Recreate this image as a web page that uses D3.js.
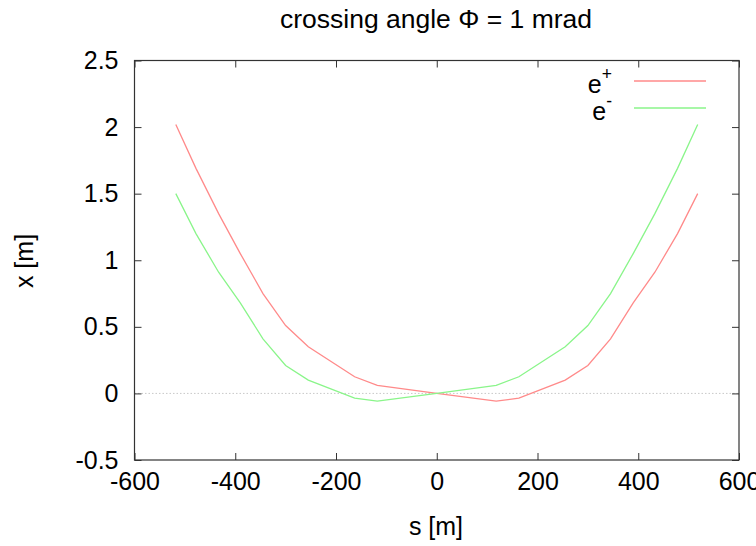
<!DOCTYPE html>
<html><head><meta charset="utf-8">
<script src="https://cdn.jsdelivr.net/npm/d3@7"></script>
<style>body{margin:0;background:#fff}svg{display:block}text{font-family:"Liberation Sans",Arial,sans-serif;fill:#000}</style>
</head><body>
<script>
const sValues = [-518, -478, -433, -390, -345, -300, -255, -163, -118, 0, 118, 163, 255, 300, 345, 390, 433, 478, 518];
const ePlus  = [2.02, 1.69, 1.35, 1.05, 0.75, 0.51, 0.35, 0.125, 0.06, 0, -0.058, -0.036, 0.10, 0.21, 0.41, 0.68, 0.91, 1.20, 1.50];
const eMinus = [1.50, 1.20, 0.91, 0.68, 0.41, 0.21, 0.10, -0.036, -0.058, 0, 0.06, 0.125, 0.35, 0.51, 0.75, 1.05, 1.35, 1.69, 2.02];
const xTicks = [-600, -400, -200, 0, 200, 400, 600];
const yTicks = [-0.5, 0, 0.5, 1, 1.5, 2, 2.5];
const seriesNames = ["e+", "e-"];
const seriesColors = ["#ff8a8a", "#8af58a"];

const W = 756, H = 546;
const L = 134.5, R = 739, T = 60.5, B = 460;
const FS = 25;
const svg = d3.select("body").append("svg").attr("width", W).attr("height", H);
const x = d3.scaleLinear().domain([-600, 600]).range([L, R]);
const y = d3.scaleLinear().domain([-0.5, 2.5]).range([B, T]);

// zero axis
svg.append("line").attr("x1", L).attr("x2", R).attr("y1", y(0)).attr("y2", y(0))
  .attr("stroke", "#c8c8c8").attr("stroke-dasharray", "1.5,2").attr("stroke-width", 1);

// axes with inward ticks
const tl = 7;
svg.append("g").attr("transform", `translate(0,${B})`)
  .call(d3.axisBottom(x).tickValues(xTicks).tickSize(-tl).tickPadding(12).tickFormat(d => String(d)))
  .call(g => { g.select(".domain").remove(); g.selectAll("text").attr("font-size", FS).attr("dy", "0.71em").style("font-family", "Liberation Sans, Arial, sans-serif"); g.selectAll("line").attr("stroke", "#333"); });
svg.append("g").attr("transform", `translate(0,${T})`)
  .call(d3.axisTop(x).tickValues(xTicks).tickSize(-tl).tickFormat(""))
  .call(g => { g.select(".domain").remove(); g.selectAll("line").attr("stroke", "#333"); });
svg.append("g").attr("transform", `translate(${L},0)`)
  .call(d3.axisLeft(y).tickValues(yTicks).tickSize(-tl).tickPadding(16).tickFormat(d => String(d)))
  .call(g => { g.select(".domain").remove(); g.selectAll("text").attr("font-size", FS).style("font-family", "Liberation Sans, Arial, sans-serif"); g.selectAll("line").attr("stroke", "#333"); });
svg.append("g").attr("transform", `translate(${R},0)`)
  .call(d3.axisRight(y).tickValues(yTicks).tickSize(-tl).tickFormat(""))
  .call(g => { g.select(".domain").remove(); g.selectAll("line").attr("stroke", "#333"); });

svg.append("rect").attr("x", L).attr("y", T).attr("width", R - L).attr("height", B - T)
  .attr("fill", "none").attr("stroke", "#333").attr("stroke-width", 1.2);

// lines
const line = d3.line().x(d => x(d[0])).y(d => y(d[1]));
[ePlus, eMinus].forEach((vals, i) => {
  svg.append("path").datum(sValues.map((s, j) => [s, vals[j]]))
    .attr("d", line).attr("fill", "none").attr("stroke", seriesColors[i]).attr("stroke-width", 1.3);
});

// legend
const legY = [81, 108];
seriesNames.forEach((n, i) => {
  svg.append("line").attr("x1", 634).attr("x2", 706).attr("y1", legY[i]).attr("y2", legY[i])
    .attr("stroke", seriesColors[i]).attr("stroke-width", 1.3);
  const t = svg.append("text").attr("x", 612).attr("y", legY[i] + 12).attr("text-anchor", "end").attr("font-size", FS);
  t.append("tspan").text(n[0]);
  t.append("tspan").attr("font-size", FS * 0.7).attr("dy", "-0.75em").text(n[1]);
});

// titles
svg.append("text").attr("x", 436).attr("y", 28).attr("text-anchor", "middle").attr("font-size", 26.5).text("crossing angle \u03A6 = 1 mrad");
svg.append("text").attr("x", 436).attr("y", 535).attr("text-anchor", "middle").attr("font-size", FS).text("s [m]");
svg.append("text").attr("transform", "translate(33,261) rotate(-90)").attr("text-anchor", "middle").attr("font-size", FS).text("x [m]");
</script>
</body></html>
